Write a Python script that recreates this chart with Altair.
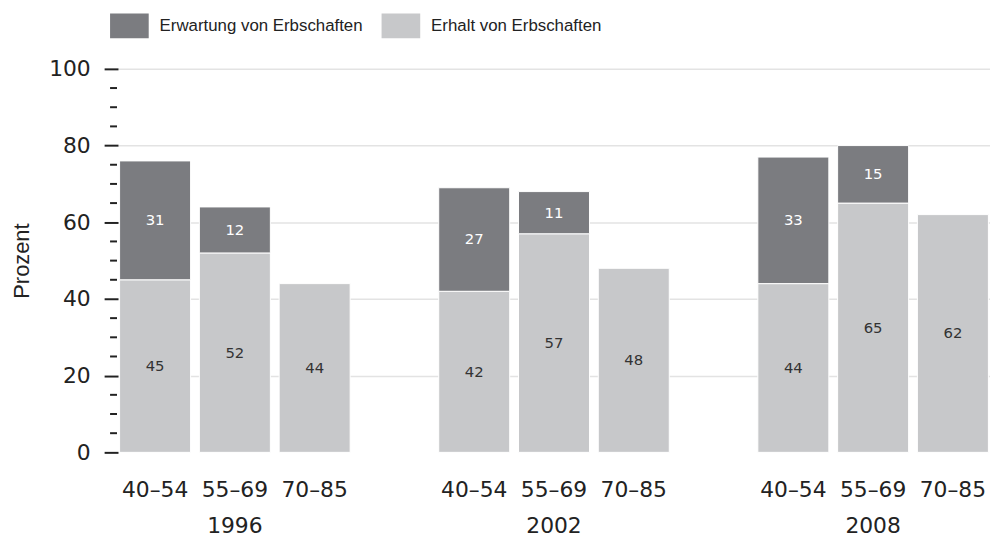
import altair as alt
import pandas as pd

years = ["1996", "2002", "2008"]
ages = ["40–54", "55–69", "70–85"]
# per year, per age group
erhalt = [45, 52, 44, 42, 57, 48, 44, 65, 62]
erwartung = [31, 12, 0, 27, 11, 0, 33, 15, 0]

series_names = ["Erwartung von Erbschaften", "Erhalt von Erbschaften"]
colors = ["#7b7c80", "#c7c8ca"]

major_ticks = [0, 20, 40, 60, 80, 100]
minor_ticks = [v for v in range(5, 100, 5) if v % 20 != 0]

rows = []
domain = []
i = 0
for yi, yr in enumerate(years):
    for ag in ages:
        key = f"{ag}|{yr}"
        domain.append(key)
        e1 = erhalt[i]
        e2 = erwartung[i]
        rows.append(dict(key=key, series=series_names[1], y0=0, y1=e1, mid=e1 / 2,
                         label=str(e1), tcol="#333333"))
        if e2 > 0:
            rows.append(dict(key=key, series=series_names[0], y0=e1, y1=e1 + e2,
                             mid=e1 + e2 / 2, label=str(e2), tcol="#ffffff"))
        i += 1
    if yi < len(years) - 1:
        domain.append(f"gap{yi}")

df = pd.DataFrame(rows)
ticks_df = pd.DataFrame({"v": minor_ticks})

label_expr = (
    "indexof(datum.value, '|') < 0 ? '' : "
    "(split(datum.value, '|')[0] == '55–69' ? split(datum.value, '|') : "
    "[split(datum.value, '|')[0], ''])"
)

xscale = alt.Scale(domain=domain, paddingInner=0.11, paddingOuter=0.02)
yscale = alt.Scale(domain=[0, 100], nice=False)

x_enc = alt.X(
    "key:N",
    scale=xscale,
    axis=alt.Axis(
        title=None, labelExpr=label_expr, labelFont="DejaVu Sans", labelFontSize=22,
        labelColor="#222222", labelPadding=28, labelLineHeight=36, ticks=False,
        domain=False, labelAngle=0, grid=False,
    ),
)

bars = alt.Chart(df).mark_bar(stroke="white", strokeWidth=1).encode(
    x=x_enc,
    y=alt.Y(
        "y1:Q",
        scale=yscale,
        title="Prozent",
        axis=alt.Axis(
            values=major_ticks, title="Prozent", grid=True, gridColor="#e3e3e3",
            gridWidth=1.5,
            gridOpacity={"condition": {"test": "datum.value == 0", "value": 0}, "value": 1},
            domain=False, tickColor="#222222", tickWidth=2, tickSize=14,
            labelFont="DejaVu Sans", labelFontSize=22, labelColor="#222222",
            labelPadding=14, titleFont="Liberation Sans", titleFontSize=22,
            titleFontWeight="normal", titleColor="#222222", titleX=-85, titleY=193.5,
        ),
    ),
    y2="y0:Q",
    color=alt.Color(
        "series:N",
        scale=alt.Scale(domain=series_names, range=colors),
        legend=alt.Legend(
            title=None, orient="none", legendX=-8, legendY=-63, direction="horizontal",
            symbolType="M-1,-0.64H1V0.64H-1Z", symbolSize=1521, symbolStrokeWidth=0,
            symbolOpacity=1, labelFont="Liberation Sans", labelFontSize=17,
            labelColor="#222222", labelOffset=11, columnPadding=18, labelLimit=0,
        ),
    ),
)

texts = alt.Chart(df).mark_text(font="DejaVu Sans", fontSize=15).encode(
    x=alt.X("key:N", scale=xscale),
    y=alt.Y("mid:Q", scale=yscale, title="Prozent"),
    text="label:N",
    color=alt.Color("tcol:N", scale=None),
)

minor = alt.Chart(ticks_df).mark_rule(color="#222222", strokeWidth=2).encode(
    y=alt.Y("v:Q", scale=yscale, title="Prozent"),
    x=alt.value(-8),
    x2=alt.value(-1),
)

chart = (
    alt.layer(bars, texts, minor)
    .properties(
        width=880, height=387,
        autosize=alt.AutoSizeParams(type="none"),
        padding={"left": 111, "top": 59, "right": 0, "bottom": 84},
    )
    .configure_view(stroke=None)
)

chart.save("out.html", embed_options={"renderer": "svg", "actions": False})
